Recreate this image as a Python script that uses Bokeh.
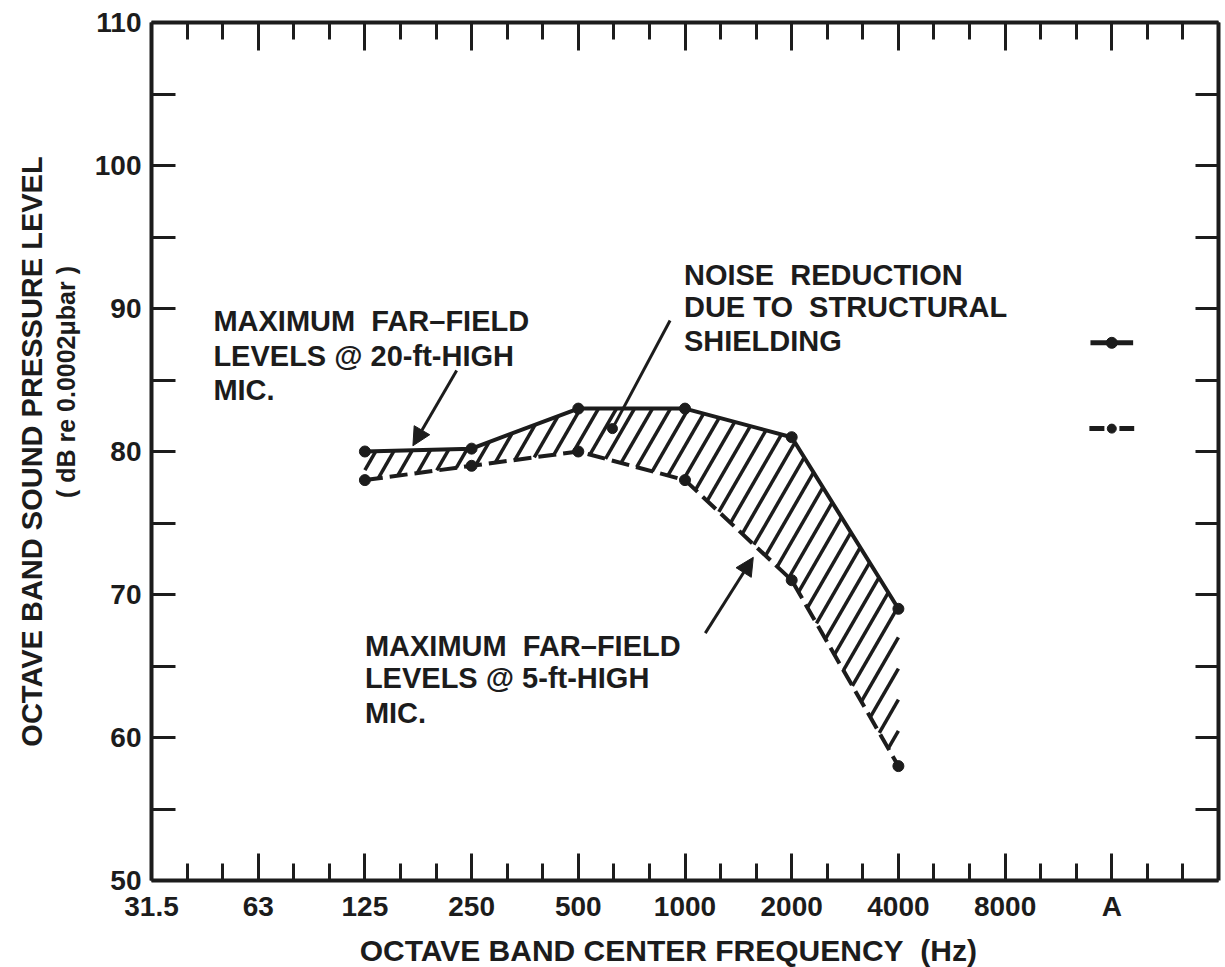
import numpy as np
from bokeh.plotting import figure
from bokeh.models import LinearAxis, FixedTicker, Range1d, Label, Arrow, NormalHead
from bokeh.embed import file_html
from bokeh.resources import INLINE

# ---------------- data ----------------
bands = ["31.5", "63", "125", "250", "500", "1000", "2000", "4000", "8000", "A"]
meas_bands = ["125", "250", "500", "1000", "2000", "4000"]
spl_20ft = [80.0, 80.2, 83.0, 83.0, 81.0, 69.0]   # max far-field, 20-ft-high mic
spl_5ft = [78.0, 79.0, 80.0, 78.0, 71.0, 58.0]    # max far-field, 5-ft-high mic
dba_20ft = 87.6   # A-weighted, 20-ft mic
dba_5ft = 81.6    # A-weighted, 5-ft mic
y_major = [50, 60, 70, 80, 90, 100, 110]
y_minor = [55, 65, 75, 85, 95, 105]

INK = "#1c1c1c"
FONT = "Liberation Sans"
NB = "\u00a0"
SP2 = NB + " "   # visible double space

FW, FH = 1067, 858
X0, X1 = 0, 10
Y0, Y1 = 50, 110

xs = [bands.index(b) for b in meas_bands]
xa = bands.index("A")

p = figure(x_range=Range1d(X0, X1), y_range=Range1d(Y0, Y1),
           frame_width=FW, frame_height=FH,
           min_border_left=151, min_border_right=7, min_border_top=22, min_border_bottom=87,
           output_backend="svg", toolbar_location=None,
           background_fill_color="white", border_fill_color="white")
p.outline_line_color = None
p.grid.visible = False

x_minor = [i + k / 3 for i in range(10) for k in (1, 2)]

# bottom axis
xb = p.xaxis[0]
xb.ticker = FixedTicker(ticks=list(range(len(bands))), minor_ticks=x_minor)
xb.major_label_overrides = {i: b for i, b in enumerate(bands)}
xb.axis_label = "OCTAVE BAND CENTER FREQUENCY" + SP2 + "(Hz)" + NB * 4

# left axis
yl = p.yaxis[0]
yl.ticker = FixedTicker(ticks=y_major, minor_ticks=y_minor)

for ax in (xb, yl):
    ax.axis_line_width = 4
    ax.axis_line_color = INK
    ax.major_tick_line_color = INK
    ax.minor_tick_line_color = INK
    ax.major_tick_line_width = 3
    ax.minor_tick_line_width = 3
    ax.major_tick_out = 0
    ax.minor_tick_out = 0
    ax.major_label_text_font = FONT
    ax.major_label_text_font_style = "bold"
    ax.major_label_text_font_size = "28px"
    ax.major_label_text_color = INK
    ax.axis_label_text_font = FONT
    ax.axis_label_text_font_style = "bold"
    ax.axis_label_text_font_size = "30px"
    ax.axis_label_text_color = INK

xb.major_tick_in = 27
xb.minor_tick_in = 17
xb.major_label_standoff = 10
xb.axis_label_standoff = 9

yl.major_tick_in = 24
yl.minor_tick_in = 24
yl.major_label_standoff = 10

# top axis
xt = LinearAxis(ticker=FixedTicker(ticks=list(range(11)), minor_ticks=x_minor),
                major_label_text_font_size="0px", major_label_text_color=None)
# right axis
yr = LinearAxis(ticker=FixedTicker(ticks=y_major, minor_ticks=y_minor),
                major_label_text_font_size="0px", major_label_text_color=None)
for ax, mj, mn in ((xt, 28, 17), (yr, 23, 23)):
    ax.axis_line_width = 4
    ax.axis_line_color = INK
    ax.major_tick_line_color = INK
    ax.minor_tick_line_color = INK
    ax.major_tick_line_width = 3
    ax.minor_tick_line_width = 3
    ax.major_tick_out = 0
    ax.minor_tick_out = 0
    ax.major_tick_in = mj
    ax.minor_tick_in = mn
    ax.major_label_standoff = 0
p.add_layout(xt, "above")
p.add_layout(yr, "right")

# extra left axes carrying the two-line y title
def title_axis(text, size, standoff):
    ax = LinearAxis(ticker=FixedTicker(ticks=[]), axis_line_color=None,
                    major_tick_line_color=None, minor_tick_line_color=None,
                    axis_label=text, axis_label_standoff=standoff,
                    axis_label_text_font=FONT, axis_label_text_font_style="bold",
                    axis_label_text_font_size=size, axis_label_text_color=INK)
    return ax

p.add_layout(title_axis(NB * 20 + "( dB re 0.0002\u03bcbar )", "25px", 12), "left")
p.add_layout(title_axis("OCTAVE BAND SOUND PRESSURE LEVEL", "29px", 1), "left")

# ---------------- hatching between the curves ----------------
sx = FW / (X1 - X0)
sy = FH / (Y1 - Y0)
poly = list(zip(xs, spl_20ft)) + list(zip(xs[::-1], spl_5ft[::-1]))
P = np.array([(x * sx, y * sy) for x, y in poly])
cot = 1.0 / np.tan(np.radians(60))
spacing = 18.0
f_all = P[:, 0] - P[:, 1] * cot
cs = np.arange(f_all.min() + spacing * 0.6, f_all.max(), spacing)
hx0, hy0, hx1, hy1 = [], [], [], []
n = len(P)
for c in cs:
    pts = []
    for i in range(n):
        a, b = P[i], P[(i + 1) % n]
        fa = a[0] - a[1] * cot - c
        fb = b[0] - b[1] * cot - c
        if (fa < 0) != (fb < 0):
            t = fa / (fa - fb)
            pts.append(a + t * (b - a))
    pts.sort(key=lambda q: q[1])
    for j in range(0, len(pts) - 1, 2):
        hx0.append(pts[j][0] / sx); hy0.append(pts[j][1] / sy)
        hx1.append(pts[j + 1][0] / sx); hy1.append(pts[j + 1][1] / sy)
p.segment(hx0, hy0, hx1, hy1, line_color=INK, line_width=3.5)

# ---------------- curves ----------------
p.line(xs, spl_20ft, line_color=INK, line_width=4)
p.line(xs, spl_5ft, line_color=INK, line_width=4, line_dash="18 7")
p.scatter(xs, spl_20ft, size=11, color=INK)
p.scatter(xs, spl_5ft, size=11, color=INK)

# A-weighted markers
p.segment([xa - 0.2], [dba_20ft], [xa + 0.2], [dba_20ft], line_color=INK, line_width=5)
p.scatter([xa], [dba_20ft], size=11, color=INK)
p.segment([xa - 0.21], [dba_5ft], [xa + 0.21], [dba_5ft], line_color=INK, line_width=5,
          line_dash="15 15")
p.scatter([xa], [dba_5ft], size=9, color=INK)

# ---------------- annotations ----------------
def add_lines(x, ys, texts):
    for yy, tt in zip(ys, texts):
        p.add_layout(Label(x=x, y=yy, text=tt, text_font=FONT, text_font_style="bold",
                           text_font_size="29px", text_color=INK,
                           text_align="left", text_baseline="middle"))

add_lines(0.58, [89.16, 86.71, 84.27],
          ["MAXIMUM" + SP2 + "FAR\u2013FIELD", "LEVELS @ 20-ft-HIGH", "MIC."])
add_lines(4.99, [92.31, 90.07, 87.76],
          ["NOISE" + SP2 + "REDUCTION", "DUE TO" + SP2 + "STRUCTURAL", "SHIELDING"])
add_lines(2.0, [66.43, 64.13, 61.68],
          ["MAXIMUM" + SP2 + "FAR\u2013FIELD", "LEVELS @ 5-ft-HIGH", "MIC."])

head = dict(size=18, line_color=INK, fill_color=INK, line_width=1)
p.add_layout(Arrow(end=NormalHead(**head), x_start=2.86, y_start=85.66,
                   x_end=2.45, y_end=80.4, line_color=INK, line_width=3))
p.add_layout(Arrow(end=NormalHead(**head), x_start=5.19, y_start=67.3,
                   x_end=5.64, y_end=72.6, line_color=INK, line_width=3))
p.segment([4.86], [89.16], [4.32], [81.6], line_color=INK, line_width=3)
p.scatter([4.32], [81.6], size=10, color=INK)

open("out.html", "w").write(file_html(p, INLINE))
